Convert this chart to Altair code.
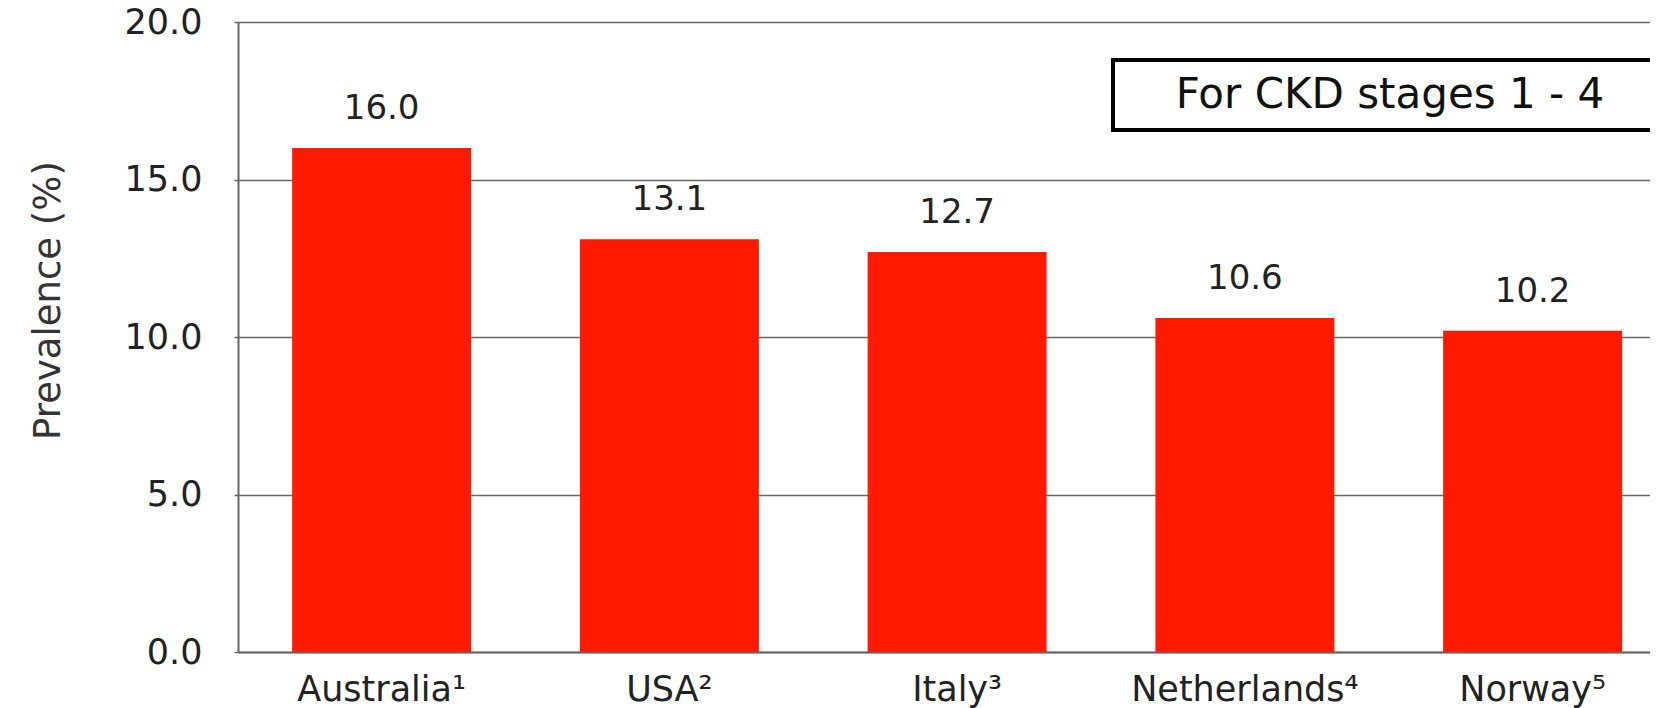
import altair as alt
import pandas as pd

countries = ["Australia\u00b9", "USA\u00b2", "Italy\u00b3", "Netherlands\u2074", "Norway\u2075"]
prevalence = [16.0, 13.1, 12.7, 10.6, 10.2]
y_ticks = [0, 5, 10, 15, 20]
box_text = ["For CKD stages 1 - 4"]

FONT = "DejaVu Sans"
df = pd.DataFrame({"country": countries, "value": prevalence})

x_enc = alt.X(
    "country:N",
    sort=countries,
    scale=alt.Scale(paddingInner=0.378, paddingOuter=0.1425, align=0.66),
    axis=alt.Axis(
        title=None, labelAngle=0, ticks=False, labelPadding=20, labelLimit=0,
        labelFont=FONT, labelFontSize=35, labelColor="#222222",
        domainColor="#666666", domainWidth=2, grid=False,
    ),
)
y_enc = alt.Y(
    "value:Q",
    scale=alt.Scale(domain=[0, 20], nice=False),
    axis=alt.Axis(
        title="Prevalence (%)", values=y_ticks, format=".1f",
        labelFont=FONT, labelFontSize=35, labelColor="#222222", labelPadding=32,
        tickSize=4, tickColor="#666666", tickWidth=1.5,
        domainColor="#666666", domainWidth=2,
        grid=True, gridColor="#666666", gridWidth=1.5,
        titleFont=FONT, titleFontSize=37, titleFontWeight="normal", titleColor="#333333",
        titleX=-190, titleY=278, titleAngle=-90, titleAlign="center", titleBaseline="middle",
    ),
)

bars = alt.Chart(df).mark_bar(color="#FF1A00").encode(x=x_enc, y=y_enc)

labels = alt.Chart(df).mark_text(
    font=FONT, fontSize=34, color="#222222", baseline="middle", dy=-39
).encode(
    x=alt.X("country:N", sort=countries),
    y="value:Q",
    text=alt.Text("value:Q", format=".1f"),
)

box = alt.Chart(pd.DataFrame({"t": box_text})).mark_rect(
    fill="white", stroke="black", strokeWidth=4, clip=True
).encode(
    x=alt.value(875), x2=alt.value(1500), y=alt.value(38), y2=alt.value(108)
)

box_label = alt.Chart(pd.DataFrame({"t": box_text})).mark_text(
    font=FONT, fontSize=42, color="#111111", align="center", baseline="middle"
).encode(x=alt.value(1152), y=alt.value(73), text="t:N")

chart = alt.layer(bars, labels, box, box_label).properties(
    width=1412, height=630,
    padding={"left": 230, "top": 14, "right": 0, "bottom": 64},
    autosize=alt.AutoSizeParams(type="none"),
    background="white",
).configure_view(stroke=None)

chart.save("out.html", embed_options={"renderer": "svg", "actions": False})
